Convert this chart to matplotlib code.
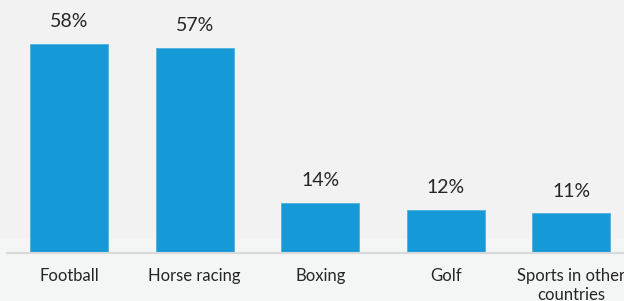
#!/usr/bin/env python3

import matplotlib
matplotlib.use("Agg")
from matplotlib import pyplot as plt
from matplotlib.patches import Rectangle

categories = ["Football", "Horse racing", "Boxing", "Golf", "Sports in other\ncountries"]
values = [58, 57, 14, 12, 11]
value_labels = ["58%", "57%", "14%", "12%", "11%"]

bg = "#f2f2f2"
bar_color = "#159ad7"
text_color = "#262626"

plt.rcParams["font.family"] = ["Lato", "DejaVu Sans"]

fig = plt.figure(figsize=(6.24, 3.01), dpi=100)
fig.patch.set_facecolor(bg)
# slightly lighter band at the bottom
fig.patches.append(Rectangle((0, 0), 1, 62 / 301, transform=fig.transFigure,
                             facecolor="#f4f5f5", edgecolor="none", zorder=-1))

ax = fig.add_axes([7 / 624, 48 / 301, 617 / 624, 253 / 301])
ax.set_facecolor("none")

x = list(range(len(categories)))
ax.bar(x, values, width=0.62, color=bar_color, edgecolor="#4fb0df", linewidth=0.6, zorder=2)

for xi, v, lab in zip(x, values, value_labels):
    ax.annotate(lab, xy=(xi, v), xytext=(0, 16), textcoords="offset points",
                ha="center", va="center", fontsize=14, color=text_color)

ax.set_xlim(-0.494, 4.419)
ax.set_ylim(0, 253 / 3.6)

for s in ["top", "right", "left"]:
    ax.spines[s].set_visible(False)
ax.spines["bottom"].set_color("#d9d9d9")
ax.spines["bottom"].set_linewidth(1.5)
ax.set_yticks([])
ax.set_xticks(x)
ax.set_xticklabels(categories, fontsize=12, color=text_color, linespacing=1.2, va="top")
ax.tick_params(axis="x", length=0, pad=11)

fig.savefig("out.png", dpi=100, facecolor=fig.get_facecolor())
